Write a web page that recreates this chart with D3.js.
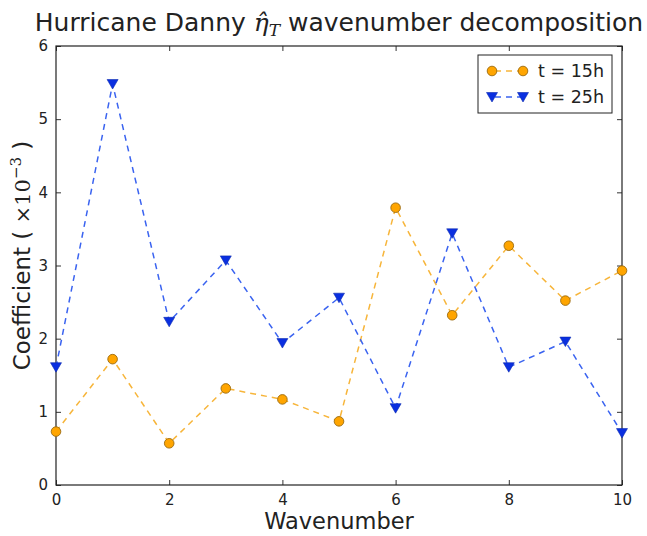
<!DOCTYPE html>
<html>
<head>
<meta charset="utf-8">
<script src="https://cdn.jsdelivr.net/npm/d3@7"></script>
<style>
  body { margin: 0; background: #fff; }
  text { font-family: "DejaVu Sans", sans-serif; fill: #222; }
</style>
</head>
<body>
<svg id="chart" width="647" height="536"></svg>
<script>
const wavenumbers = [0, 1, 2, 3, 4, 5, 6, 7, 8, 9, 10];
const coef15h = [0.73, 1.72, 0.57, 1.32, 1.17, 0.87, 3.79, 2.32, 3.27, 2.52, 2.93];
const coef25h = [1.61, 5.48, 2.23, 3.07, 1.94, 2.56, 1.05, 3.44, 1.61, 1.96, 0.71];
const xTicks = [0, 2, 4, 6, 8, 10];
const yTicks = [0, 1, 2, 3, 4, 5, 6];

const margin = { top: 46, right: 25, bottom: 51, left: 56 };
const width = 647 - margin.left - margin.right,
      height = 536 - margin.top - margin.bottom;

const svg = d3.select('#chart');
const g = svg.append('g').attr('transform', 'translate(' + margin.left + ',' + margin.top + ')');

const x = d3.scaleLinear().domain([0, 10]).range([0, width]);
const y = d3.scaleLinear().domain([0, 6]).range([height, 0]);

// ticks pointing inward, on all four sides
const tickLen = 5;
const fmt = d3.format('d');
g.append('g')
  .attr('transform', 'translate(0,' + height + ')')
  .call(d3.axisBottom(x).tickValues(xTicks).tickFormat(fmt).tickSizeInner(-tickLen).tickSizeOuter(0).tickPadding(9))
  .call(a => a.select('.domain').remove());
g.append('g')
  .call(d3.axisTop(x).tickValues(xTicks).tickSizeInner(-tickLen).tickSizeOuter(0).tickFormat(''))
  .call(a => a.select('.domain').remove());
g.append('g')
  .call(d3.axisLeft(y).tickValues(yTicks).tickFormat(fmt).tickSizeInner(-tickLen).tickSizeOuter(0).tickPadding(8))
  .call(a => a.select('.domain').remove());
g.append('g')
  .attr('transform', 'translate(' + width + ',0)')
  .call(d3.axisRight(y).tickValues(yTicks).tickSizeInner(-tickLen).tickSizeOuter(0).tickFormat(''))
  .call(a => a.select('.domain').remove());

g.selectAll('.tick line').attr('stroke', '#333');
g.selectAll('.tick text').attr('font-size', 15).attr('font-family', '"DejaVu Sans", sans-serif').attr('fill', '#222');

// frame
g.append('rect')
  .attr('width', width).attr('height', height)
  .attr('fill', 'none').attr('stroke', '#222').attr('stroke-width', 1.2);

const series = [
  { name: 't = 15h', values: coef15h, line: '#f7b53a', fill: '#ffa500', edge: '#9a6a10', marker: 'circle' },
  { name: 't = 25h', values: coef25h, line: '#3a63f0', fill: '#0a2fe0', edge: '#0a2ab0', marker: 'tri' }
];

const line = d3.line().x((d, i) => x(wavenumbers[i])).y(d => y(d));
const triPath = 'M-5.5,-4.5L5.5,-4.5L0,5z';

const drawMarker = (sel, s) => {
  if (s.marker === 'circle') {
    sel.append('circle').attr('r', 4.8)
      .attr('fill', s.fill).attr('stroke', s.edge).attr('stroke-width', 0.9);
  } else {
    sel.append('path').attr('d', triPath)
      .attr('fill', s.fill).attr('stroke', s.edge).attr('stroke-width', 0.6);
  }
};

const plot = g.append('g');
series.forEach(s => {
  plot.append('path')
    .datum(s.values)
    .attr('d', line)
    .attr('fill', 'none')
    .attr('stroke', s.line)
    .attr('stroke-width', 1.5)
    .attr('stroke-dasharray', '6,5');
});
series.forEach(s => {
  plot.selectAll(null)
    .data(s.values)
    .enter()
    .append('g')
    .attr('transform', (d, i) => 'translate(' + x(wavenumbers[i]) + ',' + y(d) + ')')
    .each(function () { drawMarker(d3.select(this), s); });
});

// legend
const lg = g.append('g').attr('transform', 'translate(' + (width - 144) + ',9)');
lg.append('rect')
  .attr('width', 134).attr('height', 58)
  .attr('fill', '#fff').attr('stroke', '#222').attr('stroke-width', 1);
series.forEach((s, i) => {
  const row = lg.append('g').attr('transform', 'translate(0,' + (16 + i * 26) + ')');
  row.append('line')
    .attr('x1', 14).attr('x2', 45).attr('y1', 0).attr('y2', 0)
    .attr('stroke', s.line).attr('stroke-width', 1.5).attr('stroke-dasharray', '6,5')
    .attr('stroke-dashoffset', -3);
  drawMarker(row.append('g').attr('transform', 'translate(14,0)'), s);
  drawMarker(row.append('g').attr('transform', 'translate(45,0)'), s);
  row.append('text')
    .attr('x', 60).attr('y', 6)
    .attr('font-size', 17.5)
    .text(s.name);
});

// title
const title = svg.append('text')
  .attr('x', margin.left + width / 2).attr('y', 31)
  .attr('text-anchor', 'middle')
  .attr('font-size', 25);
title.append('tspan').text('Hurricane Danny ');
title.append('tspan').attr('font-family', '"DejaVu Serif", serif').attr('font-style', 'italic').text('η\u0302');
title.append('tspan').attr('font-family', '"DejaVu Serif", serif').attr('font-style', 'italic')
  .attr('font-size', 17).attr('dy', 5).text('T');
title.append('tspan').attr('dy', -5).text(' wavenumber decomposition');

// axis labels
svg.append('text')
  .attr('x', margin.left + width / 2).attr('y', 529)
  .attr('text-anchor', 'middle')
  .attr('font-size', 22.5)
  .text('Wavenumber');

const yl = svg.append('text')
  .attr('transform', 'translate(30,' + (margin.top + height / 2 - 10) + ') rotate(-90)')
  .attr('text-anchor', 'middle')
  .attr('font-size', 23);
yl.append('tspan').text('Coefficient ( ');
yl.append('tspan').attr('font-family', '"DejaVu Serif", serif').attr('font-size', 21).text('×10');
yl.append('tspan').attr('font-family', '"DejaVu Serif", serif').attr('font-size', 15).attr('dy', -9).text('−3');
yl.append('tspan').attr('dy', 9).text(' )');
</script>
</body>
</html>
